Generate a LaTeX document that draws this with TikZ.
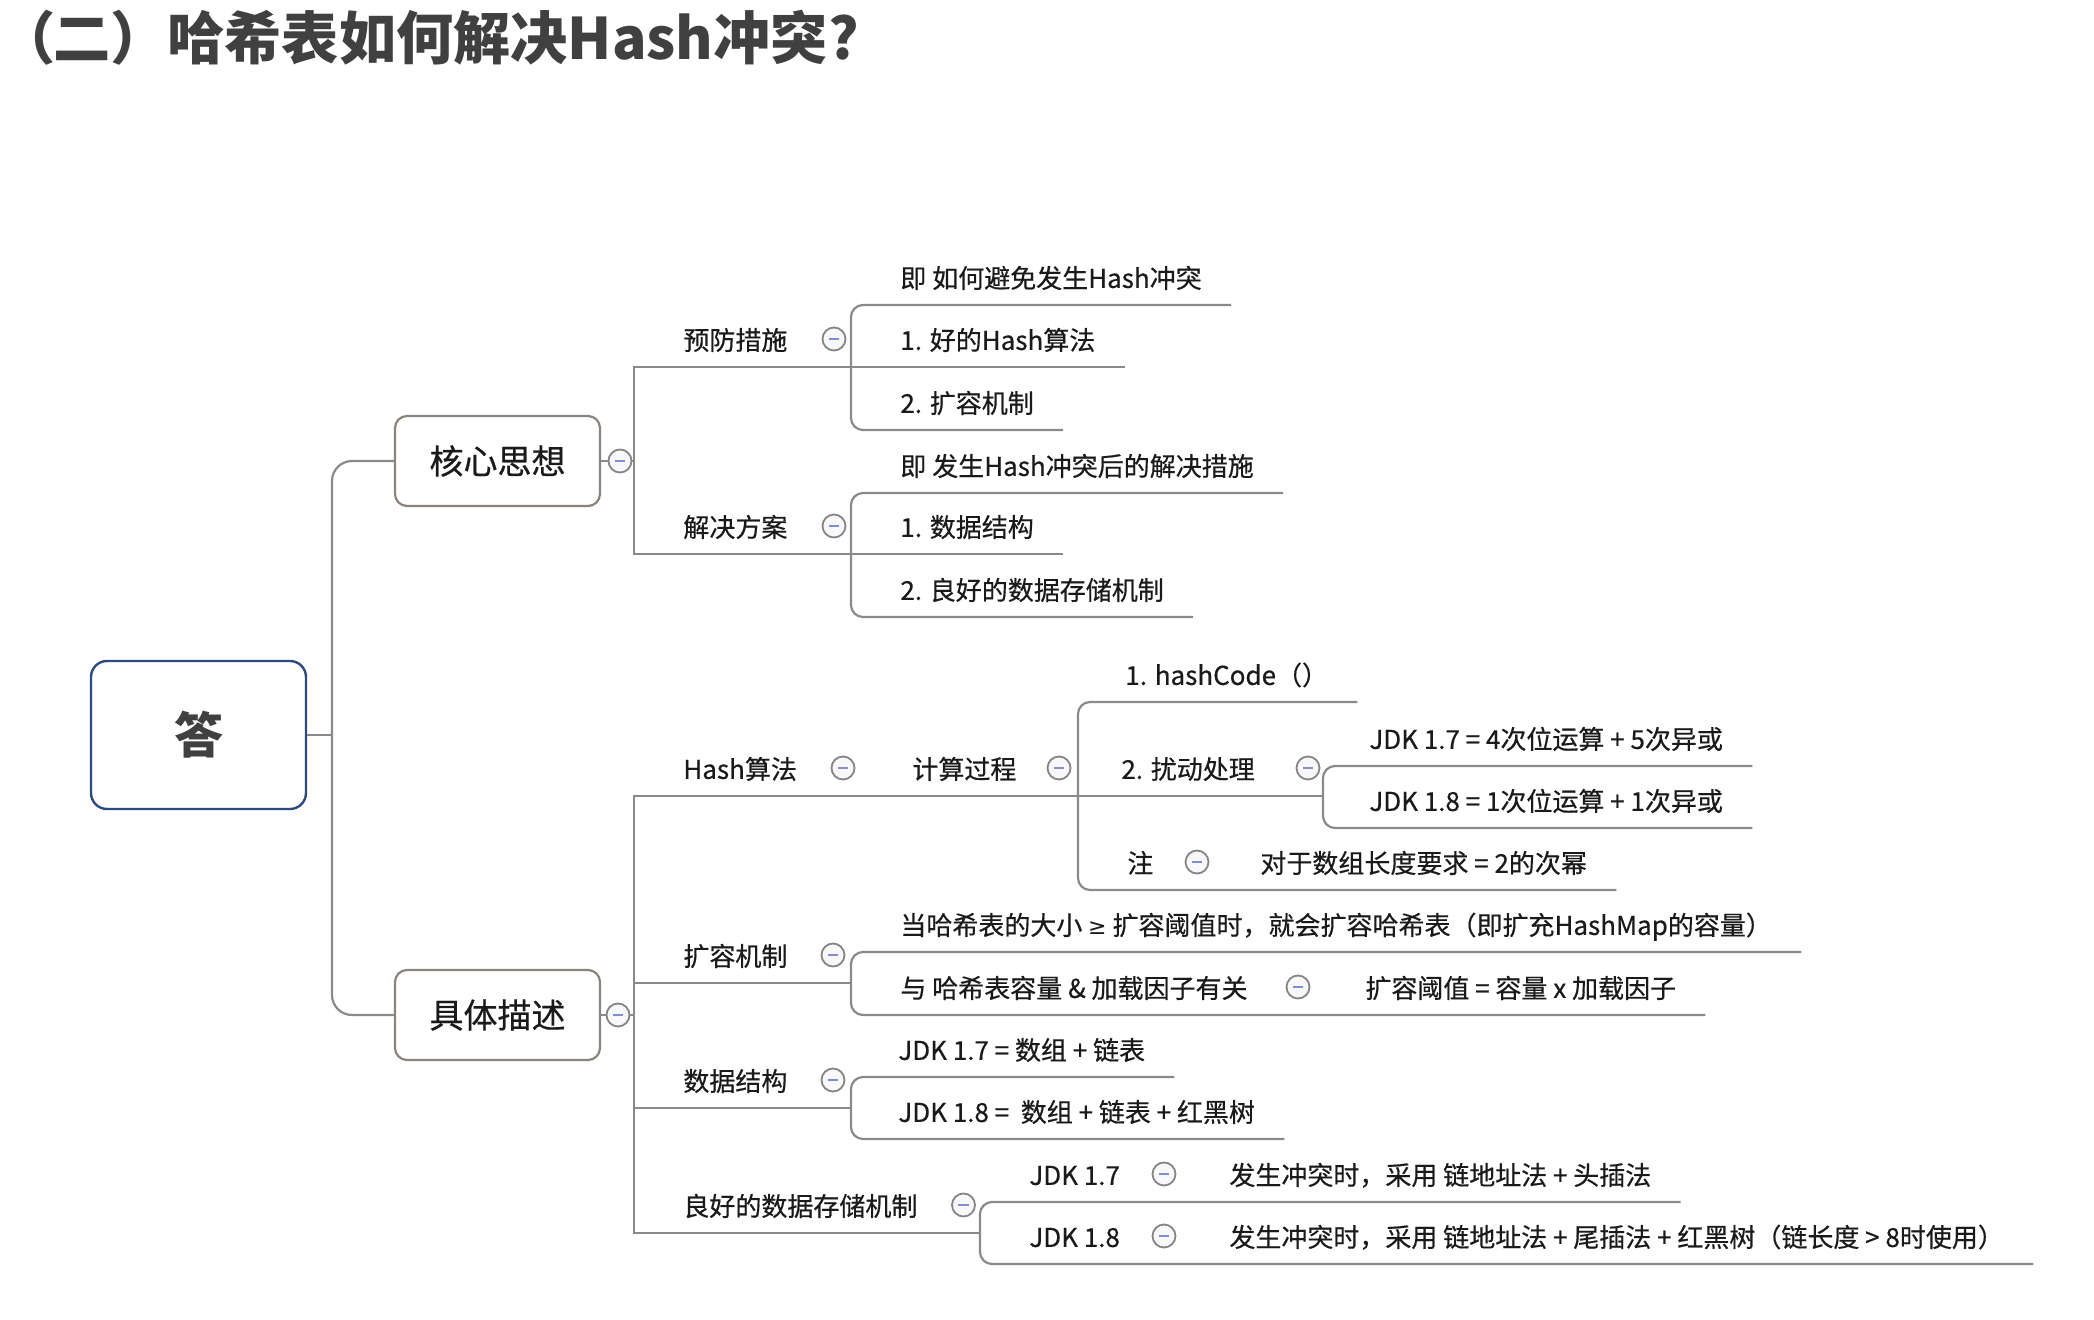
\documentclass[tikz,border=0pt]{standalone}
\usepackage{fontspec}
\setmainfont{Noto Sans CJK SC}
\newfontfamily\bodyfont[FakeBold=0.5]{Noto Sans CJK SC}
\newfontfamily\paltfont[RawFeature=+palt]{Noto Sans CJK SC}
\newfontfamily\symfont{DejaVu Sans}
\usetikzlibrary{calc}
\definecolor{linegray}{HTML}{8A8A8A}
\definecolor{boxgray}{HTML}{8A847E}
\definecolor{rootblue}{HTML}{2E4B7E}
\definecolor{txt}{HTML}{1A1A1A}
\definecolor{titlegray}{HTML}{404040}
\definecolor{minusblue}{HTML}{7F8FD0}
\definecolor{circfill}{HTML}{F8F8FA}
\definecolor{circgray}{HTML}{858585}
\tikzset{
  conn/.style={draw=linegray, line width=1.1pt},
  topic/.style={anchor=south west, inner xsep=14.5pt, inner ysep=7.7pt,
    text height=10.4pt, text depth=0.65pt, text=txt,
    font=\bodyfont\fontsize{13pt}{15pt}\selectfont},
  mainbox/.style={draw=boxgray, line width=1.1pt, rounded corners=6pt, fill=white,
    minimum width=102.5pt, minimum height=45pt, inner sep=0pt, text=txt,
    font=\bodyfont\fontsize{17pt}{20pt}\selectfont},
  rootbox/.style={draw=rootblue, line width=1.2pt, rounded corners=8pt, fill=white,
    minimum width=107.5pt, minimum height=74pt, inner sep=0pt, text=titlegray,
    font=\bfseries\fontsize{24.5pt}{28pt}\selectfont},
  collapse/.style={circle, draw=circgray, fill=circfill, line width=0.9pt,
    minimum size=11.5pt, inner sep=0pt,
    path picture={\draw[minusblue, line width=0.9pt]
      ([xshift=-2.6pt]path picture bounding box.center) --
      ([xshift=2.6pt]path picture bounding box.center);}},
}
\begin{document}
\begin{tikzpicture}[x=0.5pt,y=-0.5pt]
\useasboundingbox (0,0) rectangle (2094,1320);

% title
\node[anchor=west, inner sep=0pt, text=titlegray,
  font=\bfseries\fontsize{28.6pt}{32pt}\selectfont] (title) at (24,38)
  {{\paltfont\bfseries （}二）哈希表如何解决Hash冲突?};

% main boxes
\node[rootbox] (root) at (198.5,735) {答};
\node[mainbox] (kx) at (497.5,461) {核心思想};
\node[mainbox] (js) at (497.5,1015) {具体描述};

% junction coordinates
\coordinate (rj) at (332,735);
\coordinate (v0t) at (634,367);
\coordinate (v0m) at (634,461);
\coordinate (v0b) at (634,554);
\coordinate (p1j) at (851,367);
\coordinate (p2j) at (851,554);
\coordinate (v1t) at (634,796);
\coordinate (v1m) at (634,1015);
\coordinate (v1b) at (634,1233);
\coordinate (hj) at (1078,796);
\coordinate (hc2j) at (1323,796);
\coordinate (k0) at (634,983);
\coordinate (kj) at (851,983);
\coordinate (d0) at (634,1108);
\coordinate (dj) at (851,1108);
\coordinate (sj) at (980,1233);

% topics: 核心思想
\node[topic] (p1) at (654,367) {预防措施};
\node[topic] (p2) at (654,554) {解决方案};
\node[topic] (p1a) at (871,305) {即 如何避免发生Hash冲突};
\node[topic] (p1b) at (871,367) {1. 好的Hash算法};
\node[topic] (p1c) at (871,430) {2. 扩容机制};
\node[topic] (p2a) at (871,493) {即 发生Hash冲突后的解决措施};
\node[topic] (p2b) at (871,554) {1. 数据结构};
\node[topic] (p2c) at (871,617) {2. 良好的数据存储机制};

% topics: 具体描述
\node[topic] (h) at (654,796) {Hash算法};
\node[topic] (hc) at (883,796) {计算过程};
\node[topic] (hc1) at (1096,702) {1. hashCode（）};
\node[topic] (hc2) at (1092,796) {2. 扰动处理};
\node[topic] (hc2a) at (1340,766) {JDK 1.7 = 4次位运算 + 5次异或};
\node[topic] (hc2b) at (1340,828) {JDK 1.8 = 1次位运算 + 1次异或};
\node[topic] (hc3) at (1098,890) {注};
\node[topic] (hc3a) at (1231,890) {对于数组长度要求 = 2的次幂};
\node[topic] (k) at (654,983) {扩容机制};
\node[topic] (ka) at (871,952) {当哈希表的大小 {\symfont\fontsize{11pt}{13pt}\selectfont ≥} 扩容阈值时，就会扩容哈希表（即扩充HashMap的容量）};
\node[topic] (kb) at (871,1015) {与 哈希表容量 \& 加载因子有关};
\node[topic] (kb1) at (1336,1015) {扩容阈值 = 容量 x 加载因子};
\node[topic] (d) at (654,1108) {数据结构};
\node[topic] (da) at (869,1077) {JDK 1.7 = 数组 + 链表};
\node[topic] (db) at (869,1139) {JDK 1.8 =\ \ 数组 + 链表 + 红黑树};
\node[topic] (s) at (654,1233) {良好的数据存储机制};
\node[topic] (sa) at (1000,1202) {JDK 1.7};
\node[topic] (sa1) at (1200,1202) {发生冲突时，采用 链地址法 + 头插法};
\node[topic] (sb) at (1000,1264) {JDK 1.8};
\node[topic] (sb1) at (1200,1264) {发生冲突时，采用 链地址法 + 尾插法 + 红黑树（链长度 > 8时使用）};

% connectors: root
\draw[conn] (root.east) -- (rj);
\draw[conn, rounded corners=10pt] (kx.west) -| (rj) |- (js.west);

% connectors: 核心思想
\draw[conn] (kx.east) -- (v0m);
\draw[conn] (p1j) -- (v0t) -- (v0b) -- (p2j);
\draw[conn, rounded corners=6pt] (p1a.south east) -| (p1j) |- (p1c.south east);
\draw[conn] (p1j) -- (p1b.south east);
\draw[conn, rounded corners=6pt] (p2a.south east) -| (p2j) |- (p2c.south east);
\draw[conn] (p2j) -- (p2b.south east);

% connectors: 具体描述
\draw[conn] (js.east) -- (v1m);
\draw[conn] (hc2j) -- (v1t) -- (v1b) -- (sj);
\draw[conn, rounded corners=6pt] (hc1.south east) -| (hj) |- (hc3a.south east);
\draw[conn, rounded corners=6pt] (hc2a.south east) -| (hc2j) |- (hc2b.south east);
\draw[conn] (k0) -- (kj);
\draw[conn, rounded corners=6pt] (ka.south east) -| (kj) |- (kb1.south east);
\draw[conn] (d0) -- (dj);
\draw[conn, rounded corners=6pt] (da.south east) -| (dj) |- (db.south east);
\draw[conn, rounded corners=6pt] (sa1.south east) -| (sj) |- (sb1.south east);

% collapse markers
\node[collapse] (ck) at (620,461) {};
\node[collapse] (cj) at (618,1015) {};
\node[collapse] (cp1) at (834,339) {};
\node[collapse] (cp2) at (834,526) {};
\node[collapse] (ch) at (843,768) {};
\node[collapse] (chc) at (1059,768) {};
\node[collapse] (chc2) at (1308,768) {};
\node[collapse] (chc3) at (1197,862) {};
\node[collapse] (ck2) at (833,955) {};
\node[collapse] (ckb) at (1298,987) {};
\node[collapse] (cd) at (833,1080) {};
\node[collapse] (cs) at (963.5,1205) {};
\node[collapse] (csa) at (1164,1174) {};
\node[collapse] (csb) at (1164,1236) {};
\end{tikzpicture}
\end{document}
